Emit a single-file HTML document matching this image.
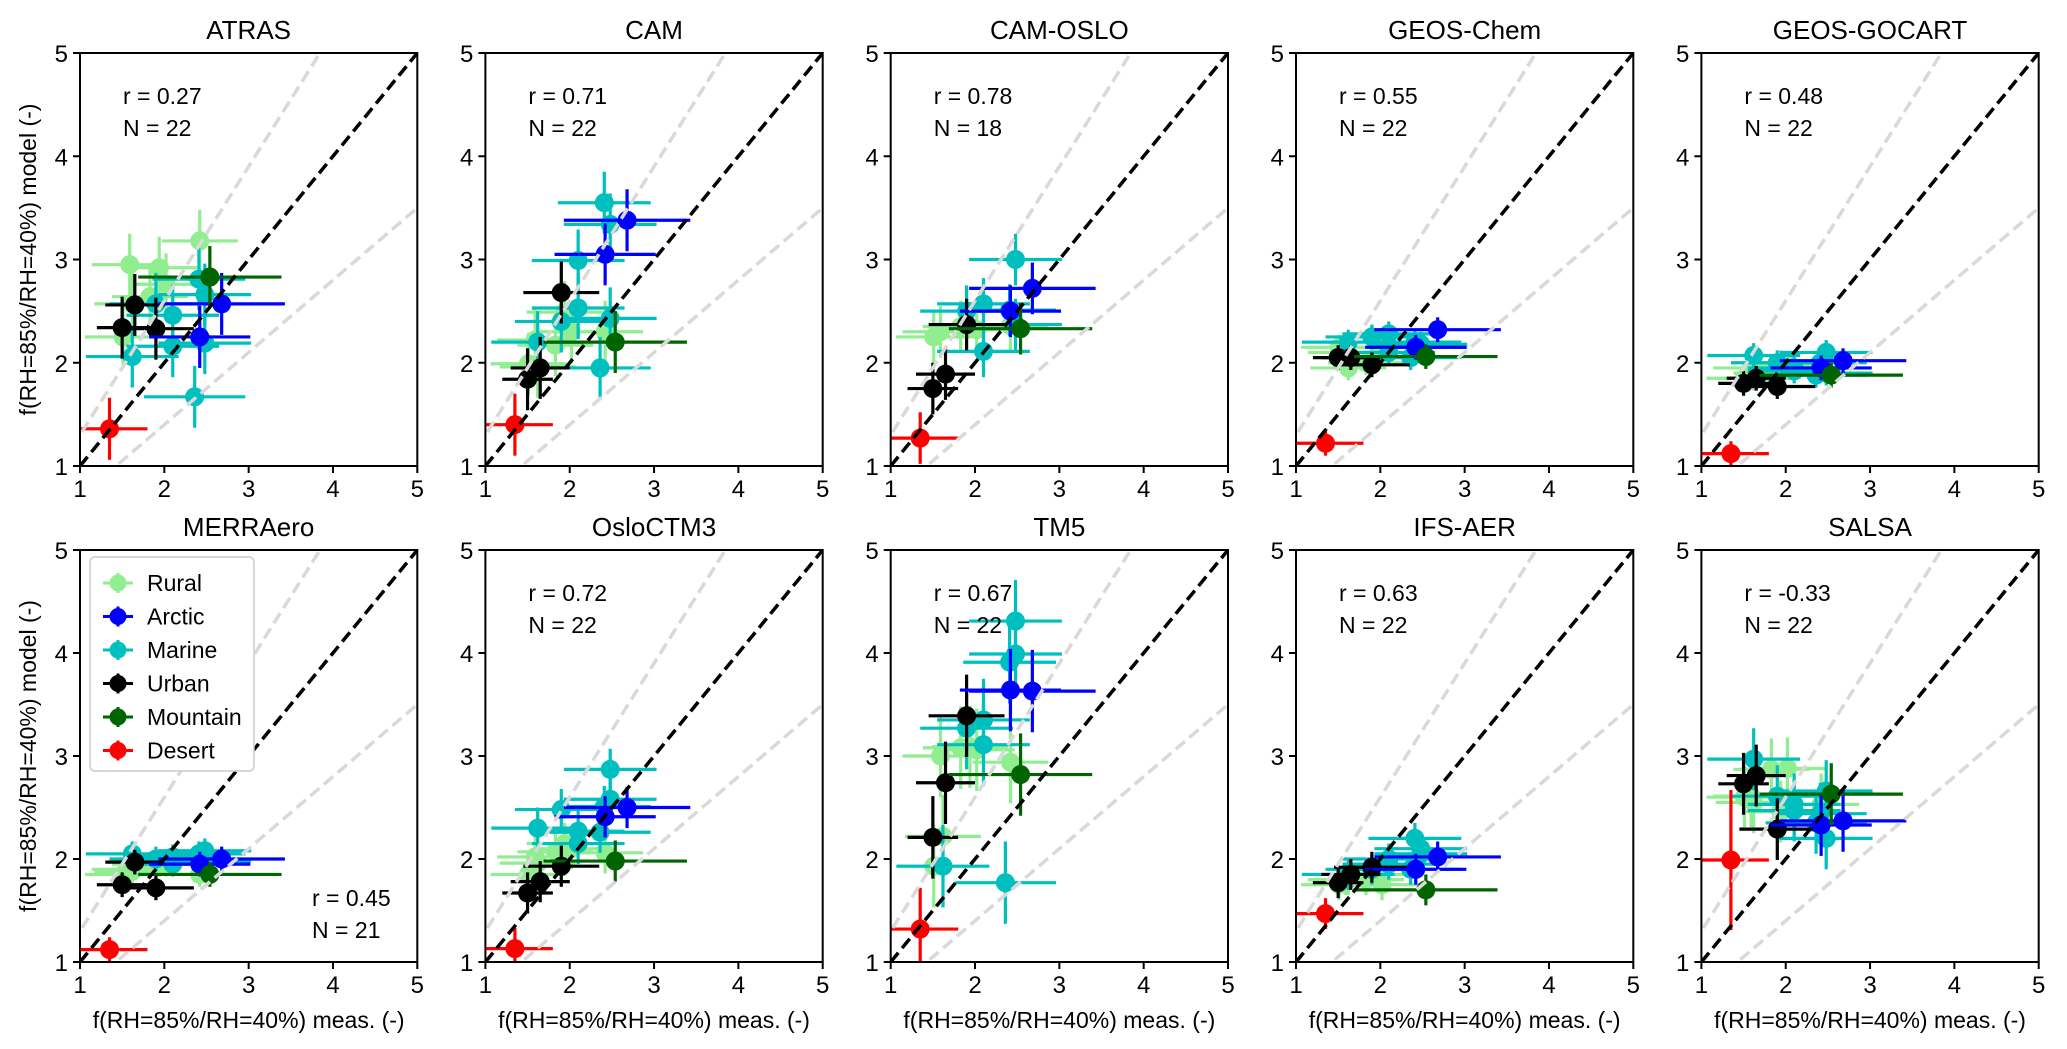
<!DOCTYPE html>
<html><head><meta charset="utf-8">
<style>
html,body{margin:0;padding:0;background:#fff;}
svg{display:block;font-family:"Liberation Sans","DejaVu Sans",sans-serif;}
</style></head>
<body>
<svg id="fig" width="2067" height="1049" viewBox="0 0 2067 1049" xmlns="http://www.w3.org/2000/svg"></svg>
<script>
// ---- data ----
const stationRegions = ["Rural","Rural","Rural","Rural","Rural","Rural","Rural",
  "Marine","Marine","Marine","Marine","Marine","Marine","Marine","Marine",
  "Urban","Urban","Urban","Arctic","Arctic","Mountain","Desert"];
const measX = [1.59,1.94,2.42,2.02,1.62,1.83,1.51, 1.62,1.90,2.10,2.10,2.41,2.48,2.48,2.36, 1.50,1.90,1.65, 2.42,2.68, 2.54, 1.35];
const measXErr = [0.45,0.45,0.45,0.45,0.45,0.45,0.45, 0.55,0.55,0.55,0.55,0.55,0.55,0.55,0.6, 0.3,0.45,0.35, 0.6,0.75, 0.85, 0.45];
const panelNames = ["ATRAS","CAM","CAM-OSLO","GEOS-Chem","GEOS-GOCART","MERRAero","OsloCTM3","TM5","IFS-AER","SALSA"];
const panelR = ["0.27","0.71","0.78","0.55","0.48","0.45","0.72","0.67","0.63","-0.33"];
const panelN = ["22","22","18","22","22","21","22","22","22","22"];
const panelYErr = [0.3,0.3,0.25,0.12,0.12,0.12,0.2,0.4,0.15,0.3];
const yATRAS = [2.95,2.92,3.18,2.76,2.57,2.64,2.25, 2.06,2.57,2.46,2.16,2.81,2.66,2.19,1.67, 2.34,2.33,2.56, 2.25,2.57, 2.83, 1.36];
const yCAM = [2.22,2.49,2.30,2.30,1.96,2.17,1.99, 2.20,2.40,2.99,2.53,3.55,3.34,2.43,1.95, 1.84,2.68,1.95, 3.05,3.38, 2.20, 1.40];
const yCAMOSLO = [2.30,null,2.36,2.32,null,2.35,2.25, null,2.50,2.57,2.11,2.51,3.00,2.37,null, 1.75,2.37,1.89, 2.50,2.72, 2.33, 1.27];
const yGEOSChem = [2.10,2.05,2.15,2.10,1.95,2.00,2.15, 2.20,2.25,2.28,2.10,2.20,2.15,2.18,2.05, 2.05,1.98,2.05, 2.15,2.32, 2.06, 1.22];
const yGOCART = [1.95,2.00,1.95,1.98,1.85,1.90,1.85, 2.07,2.00,1.95,1.92,2.00,2.10,1.90,1.88, 1.80,1.77,1.85, 1.95,2.02, 1.88, 1.12];
const yMERRA = [1.90,1.95,1.85,1.95,1.88,1.95,1.85, 2.05,2.00,1.95,2.02,2.05,2.08,1.98,null, 1.75,1.72,1.97, 1.95,2.00, 1.85, 1.12];
const yOslo = [2.02,2.15,2.06,2.10,1.96,2.07,1.85, 2.30,2.48,2.27,2.15,2.51,2.87,2.58,2.26, 1.67,1.93,1.78, 2.41,2.50, 1.98, 1.13];
const yTM5 = [3.00,3.09,2.94,3.06,2.22,3.08,1.93, 1.93,3.27,3.35,3.11,3.91,4.31,3.99,1.77, 2.21,3.39,2.74, 3.64,3.63, 2.82, 1.32];
const yIFS = [1.80,1.85,1.90,1.75,1.80,1.80,1.75, 1.85,1.90,2.00,1.95,2.20,2.10,2.05,1.90, 1.77,1.92,1.85, 1.90,2.02, 1.70, 1.47];
const ySALSA = [2.61,2.46,2.53,2.88,2.55,2.87,2.60, 2.97,2.61,2.53,2.47,2.44,2.66,2.20,2.35, 2.73,2.29,2.81, 2.33,2.37, 2.63, 1.99];
const panelY = [yATRAS,yCAM,yCAMOSLO,yGEOSChem,yGOCART,yMERRA,yOslo,yTM5,yIFS,ySALSA];
const ticks = [1,2,3,4,5];
const legendLabels = ["Rural","Arctic","Marine","Urban","Mountain","Desert"];
const regionColor = {Rural:"#90ee90",Arctic:"#0000ff",Marine:"#00bfbf",Urban:"#000000",Mountain:"#006400",Desert:"#ff0000"};

// ---- layout ----
const NS="http://www.w3.org/2000/svg";
const svg=document.getElementById('fig');
const colX=[80,485.4,890.7,1296,1701.4];
const W=337.3;
const rowTop=[53,550], rowBot=[466,962];
function mk(tag,attrs,parent){const e=document.createElementNS(NS,tag);for(const k in attrs)e.setAttribute(k,attrs[k]);(parent||svg).appendChild(e);return e;}
const defs=mk('defs',{});

panelNames.forEach((name,p)=>{
  const col=p%5,row=Math.floor(p/5);
  const x0=colX[col],x1=x0+W,yT=rowTop[row],yB=rowBot[row];
  const sx=v=>x0+(v-1)/4*W;
  const sy=v=>yB-(v-1)/4*(yB-yT);
  const g=mk('g',{});
  
  
  const cp=mk('clipPath',{id:'cp'+p},defs);
  mk('rect',{x:x0,y:yT,width:W,height:yB-yT},cp);
  const plot=mk('g',{'clip-path':'url(#cp'+p+')'},g);
  const ys=panelY[p], ye=panelYErr[p];
  measX.forEach((mx,i)=>{
    const v=ys[i]; if(v===null) return;
    const c=regionColor[stationRegions[i]];
    const pg=mk('g',{},plot);
    
    
    let yerr = ye;
    if(stationRegions[i]==="Desert" && p===9) yerr=0.68;
    mk('line',{x1:sx(mx-measXErr[i]),x2:sx(mx+measXErr[i]),y1:sy(v),y2:sy(v),stroke:c,'stroke-width':3.2},pg);
    mk('line',{x1:sx(mx),x2:sx(mx),y1:sy(v-yerr),y2:sy(v+yerr),stroke:c,'stroke-width':3.2},pg);
    mk('circle',{cx:sx(mx),cy:sy(v),r:9.5,fill:c},pg);
  });
  const l1=mk('line',{x1:sx(1),y1:sy(1),x2:sx(5),y2:sy(5),stroke:'#000','stroke-width':3.5,'stroke-dasharray':'12,6'},plot);
  
  const l2=mk('line',{x1:sx(0),y1:sy(0),x2:sx(5/1.3),y2:sy(5),stroke:'#d9d9d9','stroke-width':3.5,'stroke-dasharray':'12,6'},plot);
  
  const l3=mk('line',{x1:sx(0),y1:sy(0),x2:sx(5),y2:sy(3.5),stroke:'#d9d9d9','stroke-width':3.5,'stroke-dasharray':'12,6'},plot);
  
  mk('rect',{x:x0,y:yT,width:W,height:yB-yT,fill:'none',stroke:'#000','stroke-width':2},g);
  ticks.forEach(t=>{
    mk('line',{x1:sx(t),x2:sx(t),y1:yB,y2:yB+7,stroke:'#000','stroke-width':2},g);
    const tx=mk('text',{x:sx(t),y:yB+31,'font-size':24,'text-anchor':'middle'},g);tx.textContent=t;
    
    mk('line',{x1:x0-7,x2:x0,y1:sy(t),y2:sy(t),stroke:'#000','stroke-width':2},g);
    const ty=mk('text',{x:x0-12,y:sy(t)+9,'font-size':24,'text-anchor':'end'},g);ty.textContent=t;
    
  });
  const tt=mk('text',{x:(x0+x1)/2,y:yT-14,'font-size':26,'text-anchor':'middle'},g);tt.textContent=name;
  
  let rx=x0+43, ry=yT+51;
  if(p===5){rx=x0+232; ry=yT+356;}
  const rt=mk('text',{x:rx,y:ry,'font-size':23},g);rt.textContent='r = '+panelR[p];
  
  const nt=mk('text',{x:rx,y:ry+32,'font-size':23},g);nt.textContent='N = '+panelN[p];
  
  if(row===1){
    const xl=mk('text',{x:(x0+x1)/2,y:1028,'font-size':23,'text-anchor':'middle'},g);xl.textContent='f(RH=85%/RH=40%) meas. (-)';
    
  }
  if(col===0){
    const cy=(yT+yB)/2;
    const yl=mk('text',{x:0,y:0,'font-size':23,'text-anchor':'middle',transform:`translate(36,${cy}) rotate(-90)`},g);yl.textContent='f(RH=85%/RH=40%) model (-)';
    
  }
  if(p===5){
    const lg=mk('g',{},g);
    
    
    mk('rect',{x:90,y:557,width:164,height:214,rx:5,fill:'#fff',stroke:'#ccc','stroke-width':1.5},lg);
    legendLabels.forEach((lab,k)=>{
      const eg=mk('g',{},lg);
      
      
      const yy=583+k*33.5, c=regionColor[lab];
      mk('line',{x1:103,x2:133,y1:yy,y2:yy,stroke:c,'stroke-width':3},eg);
      mk('line',{x1:118,x2:118,y1:yy-10,y2:yy+10,stroke:c,'stroke-width':3},eg);
      mk('circle',{cx:118,cy:yy,r:8.5,fill:c},eg);
      const lt=mk('text',{x:147,y:yy+8,'font-size':23},eg);lt.textContent=lab;
    });
  }
});
</script>
</body></html>
